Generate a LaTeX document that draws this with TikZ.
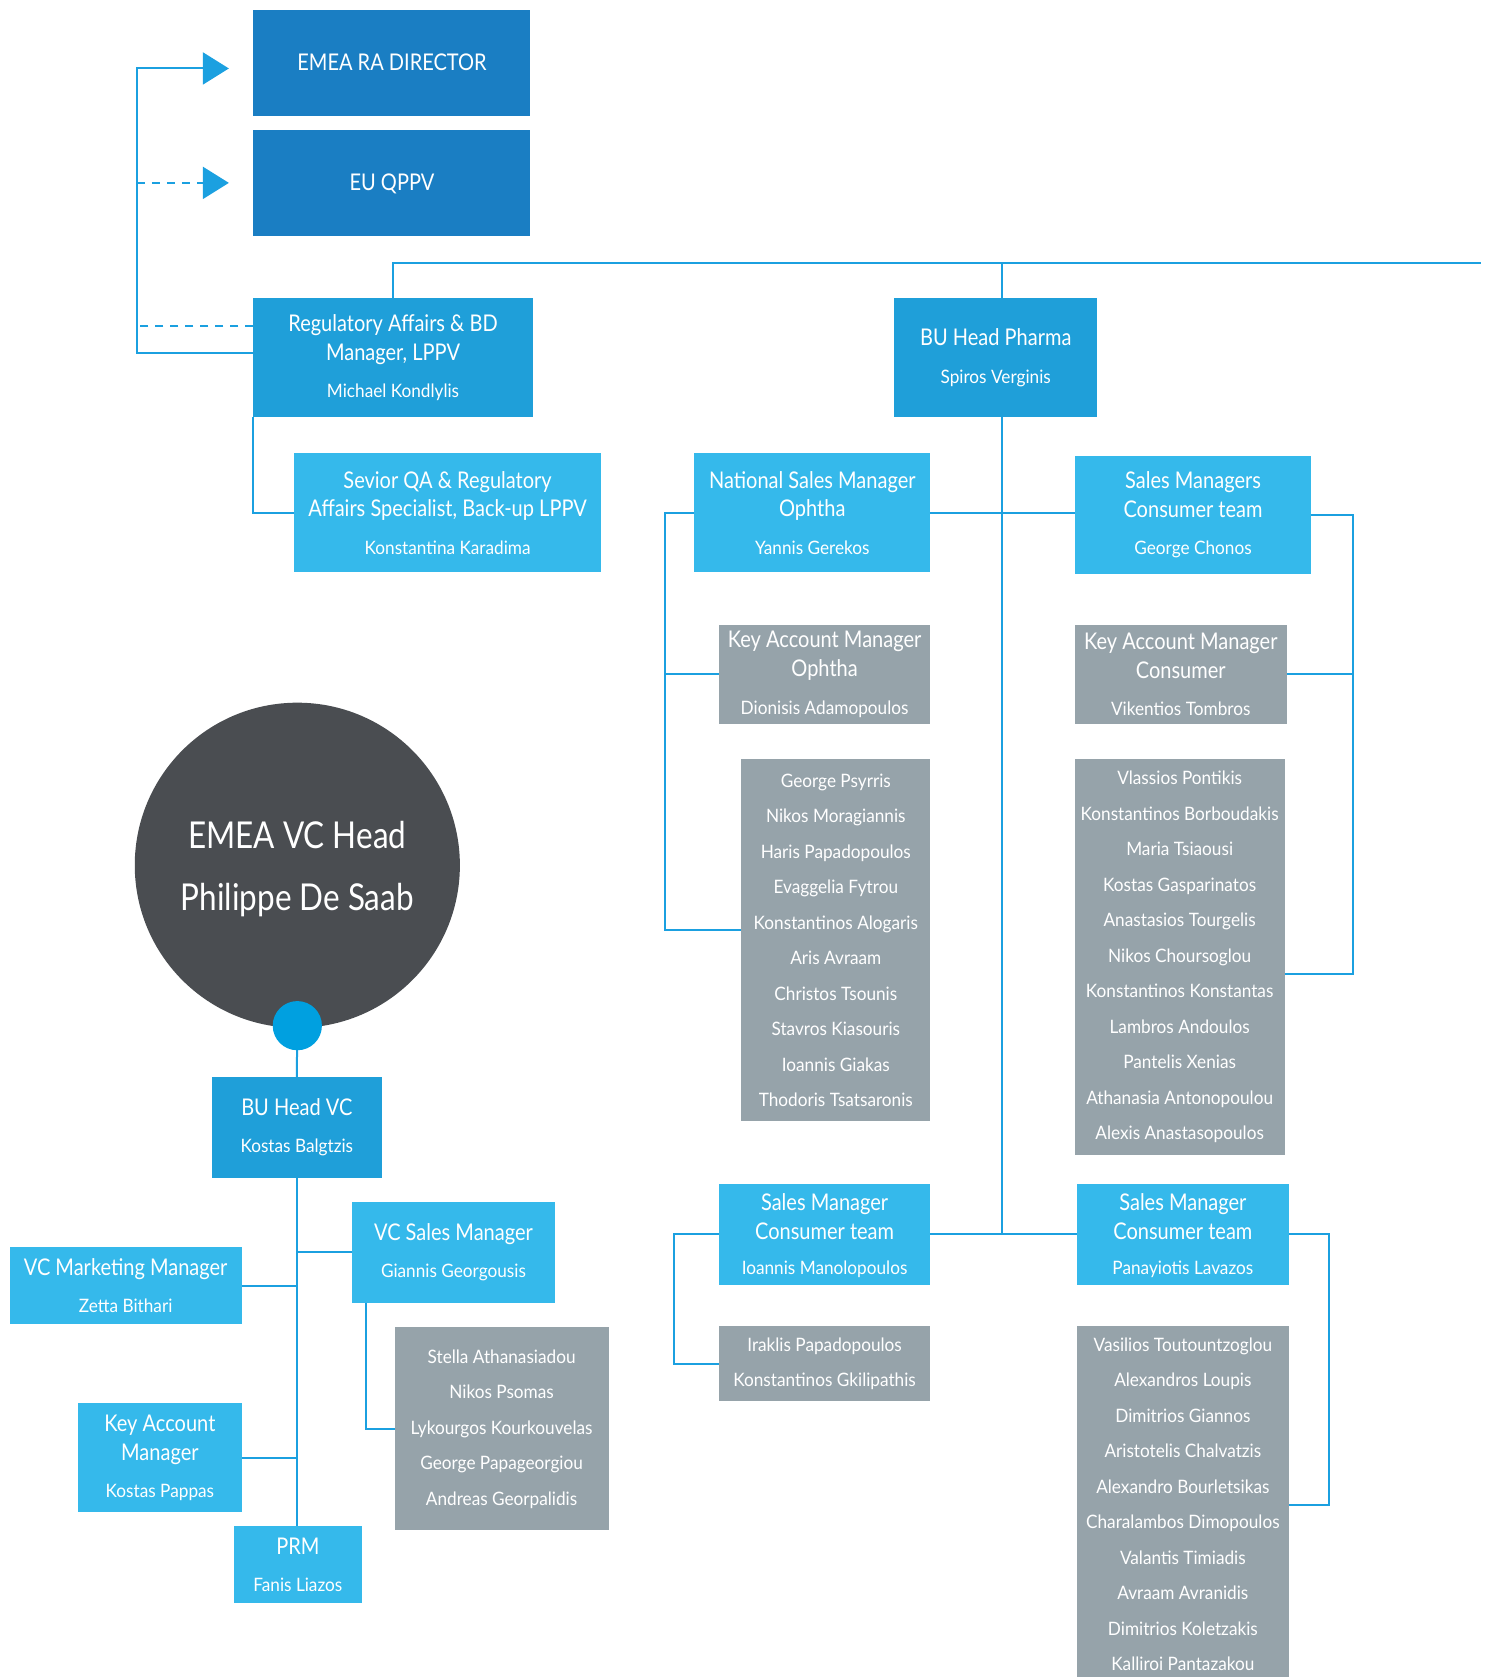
\documentclass[tikz,border=0pt]{standalone}
\usepackage{fontspec}
\setmainfont[FakeStretch=0.87]{Lato}
\newfontfamily\personfont[FakeStretch=0.93]{Lato}
\newfontfamily\headfont[FakeStretch=0.85]{Lato}
\usetikzlibrary{arrows.meta}

\definecolor{deepblue}{HTML}{1A7EC3}
\definecolor{midblue}{HTML}{1F9FD9}
\definecolor{skyblue}{HTML}{35B9EB}
\definecolor{slate}{HTML}{96A3AA}
\definecolor{wire}{HTML}{1BA0E0}
\definecolor{charcoal}{HTML}{4A4D51}
\definecolor{dotblue}{HTML}{00A0E0}

\newcommand\ttlsize{\fontsize{23}{28.9}\selectfont}
\newcommand\namesize{\personfont\fontsize{18.5}{28.9}\selectfont}
\newcommand\listsize{\personfont\fontsize{18.5}{35.5}\selectfont}

\pgfdeclarelayer{wires}
\pgfsetlayers{wires,main}

\tikzset{
  card/.style={inner sep=0pt, outer sep=0pt, text=white, align=center, font=\ttlsize},
  deep/.style={card, fill=deepblue},
  mid/.style={card, fill=midblue},
  sky/.style={card, fill=skyblue},
  grey/.style={card, fill=slate},
  roster/.style={card, fill=slate, font=\listsize},
  conn/.style={draw=wire, line width=2pt},
  dash conn/.style={conn, dash pattern=on 8.5pt off 6.5pt},
  tip/.style={-{Triangle[length=26pt,width=32pt]}, shorten >=24.6pt},
}

% \card{name}{x1}{y1}{x2}{y2}{style}{text}
\newcommand\card[7]{%
  \node[#6, minimum width={1.0697*(#4-#2)}, minimum height={1.0697*(#5-#3)}]
    (#1) at ({(#2+#4)/2},{(#3+#5)/2}) {#7};}

\begin{document}
\begin{tikzpicture}[x=1.0697pt, y=-1.0697pt]
\useasboundingbox (0,0) rectangle (1392,1568);

% ---------- regulatory branch ----------
\card{ra}{237}{9}{496}{108}{deep}{EMEA RA DIRECTOR}
\card{qppv}{237}{122}{496}{221}{deep}{EU QPPV}
\card{reg}{237}{279}{498}{390}{mid}{Regulatory Affairs \& BD\\Manager, LPPV\\[8.5pt]\namesize Michael Kondlylis}
\card{qa}{275}{424}{562}{535}{sky}{Sevior QA \& Regulatory\\Affairs Specialist, Back-up LPPV\\[8.5pt]\namesize Konstantina Karadima}

% ---------- pharma branch ----------
\card{pharma}{836}{279}{1026}{390}{mid}{BU Head Pharma\\[8.5pt]\namesize Spiros Verginis}
\card{nsm}{649}{424}{870}{535}{sky}{National Sales Manager\\Ophtha\\[8.5pt]\namesize Yannis Gerekos}
\card{smc}{1005}{426}{1226}{537}{sky}{Sales Managers\\Consumer team\\[8.5pt]\namesize George Chonos}
\card{kamo}{672}{584}{870}{677}{grey}{Key Account Manager\\Ophtha\\[8.5pt]\namesize Dionisis Adamopoulos}
\card{kamc}{1005}{584}{1203}{677}{grey}{Key Account Manager\\Consumer\\[8.5pt]\namesize Vikentios Tombros}
\card{teamo}{693}{710}{870}{1048}{roster}{George Psyrris\\Nikos Moragiannis\\Haris Papadopoulos\\Evaggelia Fytrou\\Konstantinos Alogaris\\Aris Avraam\\Christos Tsounis\\Stavros Kiasouris\\Ioannis Giakas\\Thodoris Tsatsaronis}
\card{teamc}{1005}{710}{1201}{1080}{roster}{Vlassios Pontikis\\Konstantinos Borboudakis\\Maria Tsiaousi\\Kostas Gasparinatos\\Anastasios Tourgelis\\Nikos Choursoglou\\Konstantinos Konstantas\\Lambros Andoulos\\Pantelis Xenias\\Athanasia Antonopoulou\\Alexis Anastasopoulos}
\card{sml}{672}{1107}{870}{1201}{sky}{\rule{0pt}{20pt}Sales Manager\\Consumer team\\[6pt]\namesize Ioannis Manolopoulos}
\card{smr}{1007}{1107}{1205}{1201}{sky}{\rule{0pt}{20pt}Sales Manager\\Consumer team\\[6pt]\namesize Panayiotis Lavazos}
\card{teaml}{672}{1240}{870}{1310}{roster}{Iraklis Papadopoulos\\Konstantinos Gkilipathis}
\card{teamr}{1007}{1240}{1205}{1573}{roster}{Vasilios Toutountzoglou\\Alexandros Loupis\\Dimitrios Giannos\\Aristotelis Chalvatzis\\Alexandro Bourletsikas\\Charalambos Dimopoulos\\Valantis Timiadis\\Avraam Avranidis\\Dimitrios Koletzakis\\Kalliroi Pantazakou}

% ---------- VC branch ----------
\node[circle, fill=charcoal, minimum size={1.0697*304}, inner sep=0pt, text=white, align=center,
      font={\headfont\fontsize{37}{62}\selectfont}] (head) at (278,809)
      {\rule{0pt}{34pt}EMEA VC Head\\Philippe De Saab};
\node[circle, fill=dotblue, minimum size={1.0697*46}, inner sep=0pt] (dot) at (278,959) {};
\card{buvc}{198}{1007}{357}{1101}{mid}{BU Head VC\\[8.5pt]\namesize Kostas Balgtzis}
\card{vcsm}{329}{1124}{519}{1218}{sky}{VC Sales Manager\\[8.5pt]\namesize Giannis Georgousis}
\card{vcmm}{9}{1166}{226}{1238}{sky}{VC Marketing Manager\\[8.5pt]\namesize Zetta Bithari}
\card{kam}{73}{1312}{226}{1414}{sky}{Key Account\\Manager\\[8.5pt]\namesize Kostas Pappas}
\card{prm}{219}{1427}{338}{1499}{sky}{PRM\\[8.5pt]\namesize Fanis Liazos}
\card{teamvc}{369}{1241}{569}{1431}{roster}{Stella Athanasiadou\\Nikos Psomas\\Lykourgos Kourkouvelas\\George Papageorgiou\\Andreas Georpalidis}

% ---------- connectors ----------
\coordinate (railtop) at (937,246);
\coordinate (railbot) at (937,1154);
\begin{pgfonlayer}{wires}
  % reporting lines to the regional functions
  \draw[conn, tip] (reg.west |- 0,330) -| (128,64) -- (ra.west |- 0,64);
  \draw[dash conn] (reg.west |- 0,305) -- (128,305);
  \draw[dash conn, tip] (128,171) -- (qppv.west |- 0,171);
  \draw[conn] (reg.south west) |- (qa.west);
  % top rail and pharma trunk
  \draw[conn] (reg.north) |- (1385,246);
  \draw[conn] (railtop) -- (railbot);
  % ophtha side
  \draw[conn] (nsm.east) -- (smc.west |- nsm.east);
  \draw[conn] (nsm.west) -- (622,479.5) |- (teamo.west |- 0,870);
  \draw[conn] (622,630.5) -- (kamo.west);
  % consumer side
  \draw[conn] (smc.east) -- (1265,481.5) |- (teamc.east |- 0,911);
  \draw[conn] (kamc.east) -- (1265,630.5);
  % lower consumer teams
  \draw[conn] (sml.east) -- (smr.west);
  \draw[conn] (sml.west) -- (630,1154) |- (teaml.west);
  \draw[conn] (smr.east) -- (1243,1154) |- (teamr.east |- 0,1407);
  % VC tree
  \draw[conn] (dot.center) -- (buvc.north);
  \draw[conn] (buvc.south) -- (prm.north -| buvc.south);
  \draw[conn] (vcsm.west) -- (vcsm.west -| buvc.south);
  \draw[conn] (vcmm.east) -- (vcmm.east -| buvc.south);
  \draw[conn] (kam.east) -- (kam.east -| buvc.south);
  \draw[conn] (vcsm.south west) ++(13,0) |- (teamvc.west);
\end{pgfonlayer}
\end{tikzpicture}
\end{document}
